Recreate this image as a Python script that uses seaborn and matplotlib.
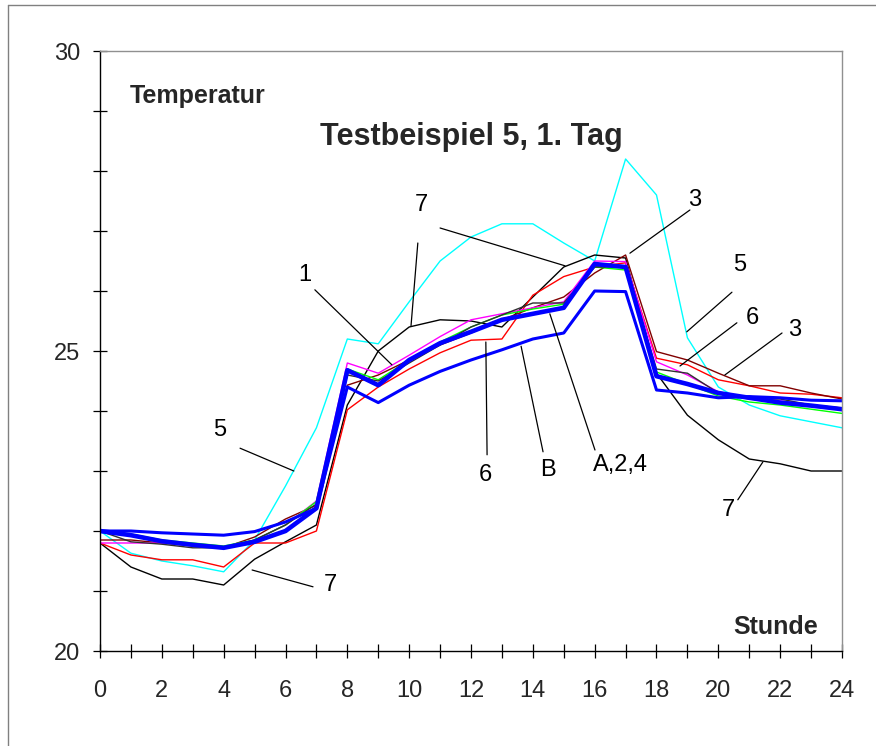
import matplotlib
matplotlib.use("Agg")
import matplotlib.pyplot as plt
import seaborn as sns
import pandas as pd
from matplotlib.lines import Line2D

sns.set_style("white")
plt.rcParams['font.family'] = ['Liberation Sans', 'DejaVu Sans']

hours = list(range(25))

s5_cyan = [22.0, 21.63, 21.5, 21.42, 21.32, 21.85, 22.75, 23.72, 25.2, 25.12, 25.82, 26.5, 26.9,
           27.12, 27.12, 26.8, 26.5, 28.2, 27.6, 25.22, 24.4, 24.1, 23.92, 23.82, 23.72]
s7_black = [21.8, 21.4, 21.2, 21.2, 21.1, 21.53, 21.82, 22.1, 24.1, 25.0, 25.4, 25.52, 25.5,
            25.4, 25.9, 26.4, 26.6, 26.55, 24.63, 23.93, 23.52, 23.2, 23.12, 23.0, 23.0]
s6_red = [21.8, 21.6, 21.52, 21.52, 21.4, 21.8, 21.8, 22.0, 24.02, 24.4, 24.7, 24.97, 25.18,
          25.2, 25.93, 26.24, 26.4, 26.47, 24.88, 24.77, 24.52, 24.42, 24.3, 24.28, 24.22]
s3_darkred = [21.85, 21.85, 21.8, 21.75, 21.72, 21.9, 22.2, 22.43, 24.43, 24.6, 24.85, 25.1, 25.3,
              25.52, 25.72, 25.9, 26.3, 26.6, 24.99, 24.85, 24.63, 24.42, 24.42, 24.3, 24.2]
s1_magenta = [21.8, 21.8, 21.8, 21.78, 21.72, 21.85, 22.1, 22.5, 24.8, 24.63, 24.93, 25.24, 25.52,
              25.62, 25.72, 25.82, 26.5, 26.49, 24.82, 24.6, 24.32, 24.22, 24.17, 24.1, 24.05]
s2_green = [22.0, 21.95, 21.85, 21.8, 21.75, 21.85, 22.1, 22.49, 24.7, 24.52, 24.85, 25.15, 25.4,
            25.6, 25.7, 25.78, 26.4, 26.35, 24.65, 24.45, 24.25, 24.15, 24.1, 24.03, 23.96]
s4_black = [22.0, 21.82, 21.78, 21.72, 21.72, 21.85, 22.1, 22.45, 24.6, 24.5, 24.8, 25.1, 25.4,
            25.6, 25.8, 25.8, 26.4, 26.4, 24.7, 24.63, 24.3, 24.2, 24.2, 24.1, 24.05]
sB_blue = [22.0, 22.0, 21.97, 21.95, 21.93, 21.99, 22.15, 22.38, 24.4, 24.14, 24.43, 24.66, 24.85,
           25.02, 25.2, 25.3, 26.0, 25.99, 24.35, 24.3, 24.22, 24.24, 24.22, 24.18, 24.17]
sA_blue = [22.0, 21.93, 21.83, 21.77, 21.72, 21.82, 22.0, 22.38, 24.68, 24.43, 24.85, 25.13, 25.32,
           25.52, 25.62, 25.72, 26.45, 26.4, 24.58, 24.45, 24.3, 24.22, 24.14, 24.09, 24.03]

series = [
    ("5", s5_cyan, "#00FFFF", 1.0),
    ("7", s7_black, "#000000", 1.0),
    ("6", s6_red, "#FF0000", 1.0),
    ("3", s3_darkred, "#800000", 1.0),
    ("1", s1_magenta, "#FF00FF", 1.0),
    ("2", s2_green, "#00FF00", 1.0),
    ("4", s4_black, "#303030", 1.0),
    ("B", sB_blue, "#0000FF", 2.2),
    ("A", sA_blue, "#0000FF", 3.3),
]

# labels: text, text position, leader start, leader end (data coords)
labels = [
    ("1", (6.63, 26.27), [((6.95, 26.02), (9.44, 24.77))]),
    ("7", (10.41, 27.43), [((10.28, 26.8), (10.06, 25.42)), ((11.0, 27.05), (15.04, 26.42))]),
    ("3", (19.24, 27.52), [((19.08, 27.35), (17.14, 26.63))]),
    ("5", (20.7, 26.43), [((20.44, 25.98), (18.98, 25.32))]),
    ("6", (21.09, 25.55), [((20.6, 25.47), (18.76, 24.75))]),
    ("3", (22.48, 25.35), [((22.06, 25.3), (20.21, 24.6))]),
    ("5", (3.88, 23.68), [((4.53, 23.38), (6.27, 23.0))]),
    ("7", (7.44, 21.1), [((6.89, 21.07), (4.92, 21.35))]),
    ("6", (12.45, 22.93), [((12.52, 23.27), (12.48, 25.15))]),
    ("B", (14.49, 23.02), [((14.33, 23.32), (13.62, 25.08))]),
    ("A,2,4", (16.82, 23.1), [((16.01, 23.35), (14.55, 25.62))]),
    ("7", (20.31, 22.35), [((20.63, 22.52), (21.44, 23.15))]),
]

fig = plt.figure(figsize=(8.76, 7.46), dpi=100)
ax = fig.add_axes([100 / 876, 95 / 746, 742 / 876, 600 / 746])

for name, vals, col, lw in series:
    df = pd.DataFrame({"Stunde": hours, "Temperatur": vals})
    sns.lineplot(data=df, x="Stunde", y="Temperatur", color=col, linewidth=lw, ax=ax,
                 legend=False)

for txt, pos, leaders in labels:
    for (x0, y0), (x1, y1) in leaders:
        ax.plot([x0, x1], [y0, y1], color="black", linewidth=0.9, zorder=5)
    ax.text(pos[0], pos[1], txt, fontsize=17, ha="center", va="center", color="black", zorder=6)

ax.text(0.97, 29.25, "Temperatur", fontsize=18, fontweight="bold", ha="left", va="center")
ax.text(12.0, 28.57, "Testbeispiel 5, 1. Tag", fontsize=22, fontweight="bold",
        ha="center", va="center")
ax.text(23.22, 20.4, "Stunde", fontsize=18, fontweight="bold", ha="right", va="center")

ax.set_xlim(0, 24)
ax.set_ylim(20, 30)
ax.set_xlabel("")
ax.set_ylabel("")
ax.set_xticks(range(0, 25, 2))
ax.set_xticks(range(0, 25, 1), minor=True)
ax.set_yticks([20, 25, 30])
ax.set_yticks(range(20, 31), minor=True)
ax.tick_params(axis="both", which="both", direction="inout", color="black", width=0.9,
               labelsize=17)
ax.tick_params(axis="x", which="both", length=10, pad=16)
ax.tick_params(axis="y", which="both", length=10, pad=9)
ax.tick_params(axis="both", which="both", bottom=True, left=True)

for s in ["left", "bottom"]:
    ax.spines[s].set_color("black")
    ax.spines[s].set_linewidth(1.0)
for s in ["top", "right"]:
    ax.spines[s].set_color("#909090")
    ax.spines[s].set_linewidth(1.0)

# outer frame
fig.add_artist(Line2D([8 / 876, 8 / 876], [0, 1 - 5 / 746], transform=fig.transFigure,
                      color="#808080", linewidth=1.0))
fig.add_artist(Line2D([8 / 876, 1], [1 - 5 / 746, 1 - 5 / 746], transform=fig.transFigure,
                      color="#808080", linewidth=1.0))

fig.savefig("out.png", dpi=100)
